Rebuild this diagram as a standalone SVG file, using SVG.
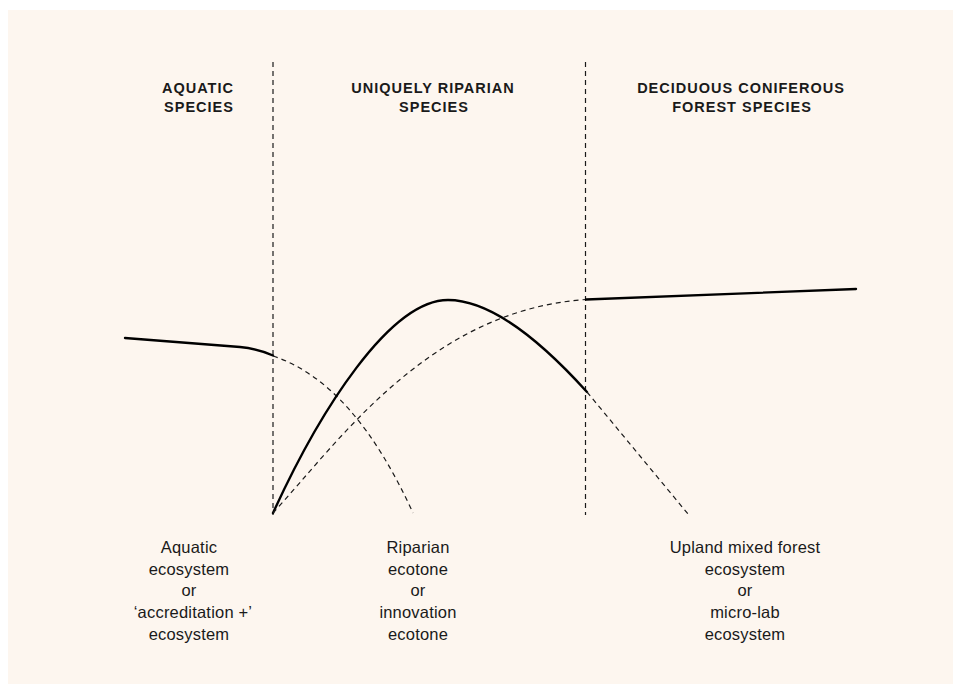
<svg xmlns="http://www.w3.org/2000/svg" width="953" height="684" viewBox="0 0 953 684">
<style>
.hd{font-family:"Liberation Sans",Arial,sans-serif;font-weight:700;font-size:14.5px;letter-spacing:1px;fill:#1a1a1a;text-anchor:middle}
.lb{font-family:"Liberation Sans",Arial,sans-serif;font-size:16.5px;letter-spacing:0.2px;fill:#1a1a1a;text-anchor:middle}
.div{stroke:#1a1a1a;stroke-width:1.2;stroke-dasharray:5 4;fill:none}
.dash{stroke:#1a1a1a;stroke-width:1.2;stroke-dasharray:5 4;fill:none}
.solid{stroke:#000;stroke-width:2.4;fill:none;stroke-linecap:round}
</style>
<rect x="0" y="0" width="953" height="684" fill="#ffffff"/>
<rect x="8" y="10" width="945" height="674" fill="#fdf6ef"/>
<g id="dividers">
<line class="div" x1="273" y1="62" x2="273" y2="515"/>
<line class="div" x1="585.5" y1="62" x2="585.5" y2="515"/>
</g>
<g id="headings">
<text class="hd" x="198" y="93">AQUATIC</text>
<text class="hd" x="199" y="112">SPECIES</text>
<text class="hd" x="433" y="93">UNIQUELY RIPARIAN</text>
<text class="hd" x="434" y="112">SPECIES</text>
<text class="hd" x="741" y="93">DECIDUOUS CONIFEROUS</text>
<text class="hd" x="742" y="112">FOREST SPECIES</text>
</g>
<g id="connectors">
<path id="aquatic-solid" class="solid" d="M125,338 L240,347 C255,348.5 265,352 273,355.5"/>
<path id="aquatic-dash" class="dash" d="M273,356 C330,375 375,430 413,513"/>
<path id="riparian-solid" class="solid" d="M273,513 C320,410 390,300 448,300 C490,300 540,340 587,392"/>
<path id="riparian-dash" class="dash" d="M587,392 L688,514"/>
<path id="forest-dash" class="dash" d="M273,513 C340,440 430,310 586,299.5"/>
<path id="forest-solid" class="solid" d="M586,299.5 L856,289"/>
</g>
<g id="label-aquatic">
<text class="lb" x="189" y="553">Aquatic</text>
<text class="lb" x="189" y="575">ecosystem</text>
<text class="lb" x="189" y="596">or</text>
<text class="lb" x="193" y="618">‘accreditation +’</text>
<text class="lb" x="189" y="640">ecosystem</text>
</g>
<g id="label-riparian">
<text class="lb" x="418" y="553">Riparian</text>
<text class="lb" x="418" y="575">ecotone</text>
<text class="lb" x="418" y="596">or</text>
<text class="lb" x="418" y="618">innovation</text>
<text class="lb" x="418" y="640">ecotone</text>
</g>
<g id="label-upland">
<text class="lb" x="745" y="553">Upland mixed forest</text>
<text class="lb" x="745" y="575">ecosystem</text>
<text class="lb" x="745" y="596">or</text>
<text class="lb" x="745" y="618">micro-lab</text>
<text class="lb" x="745" y="640">ecosystem</text>
</g>
</svg>
